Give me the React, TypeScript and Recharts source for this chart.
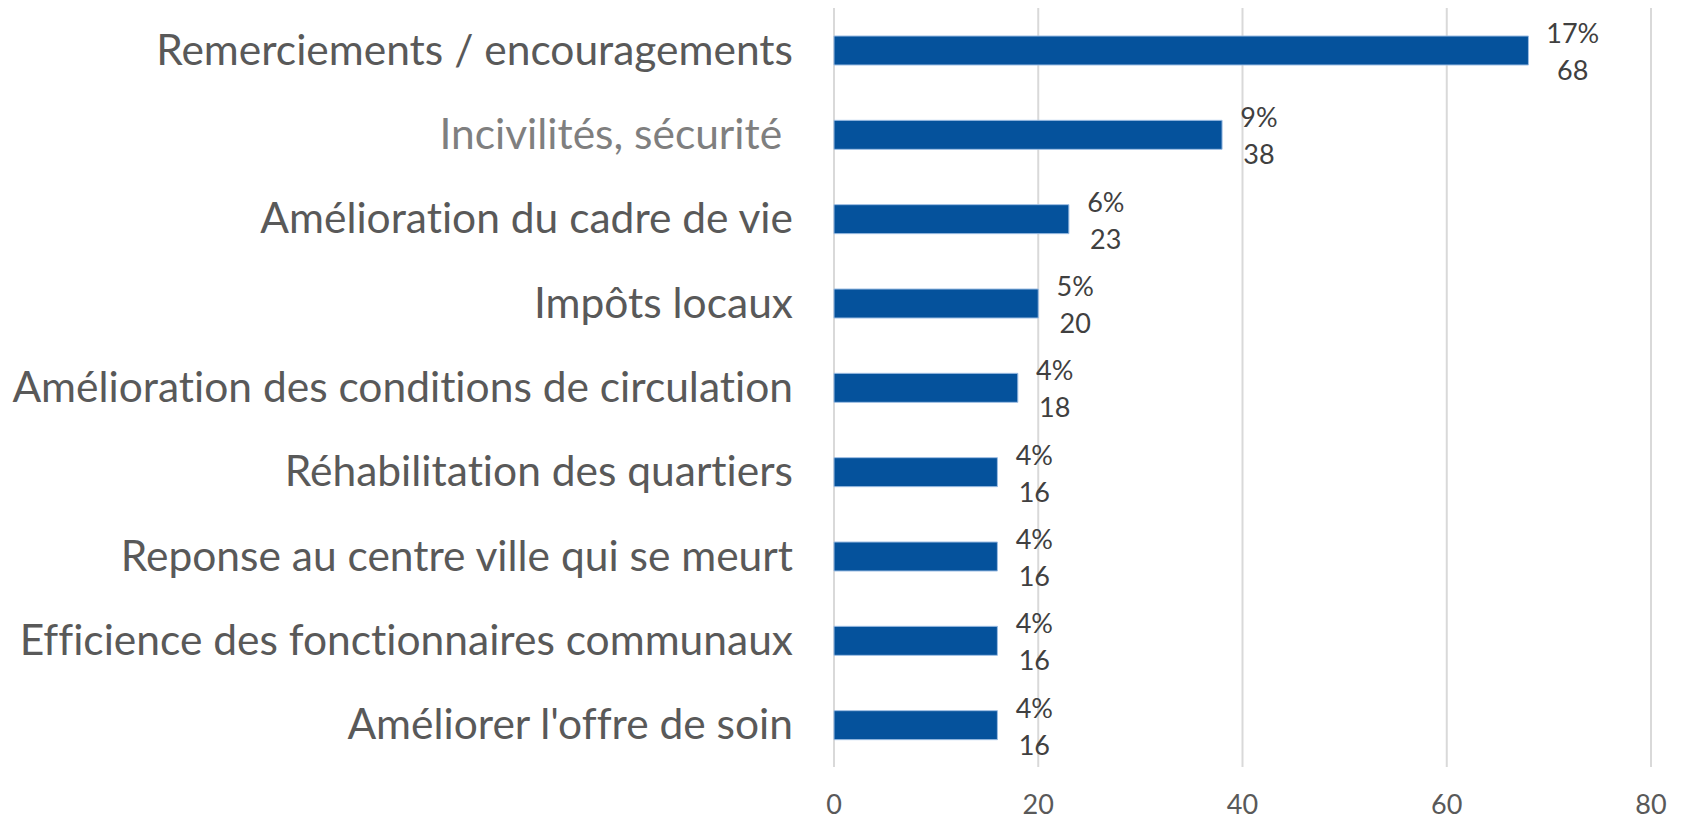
import React from "react";
import {
  BarChart,
  Bar,
  XAxis,
  YAxis,
  CartesianGrid,
  LabelList,
} from "recharts";

const categories = [
  "Remerciements / encouragements",
  "Incivilités, sécurité ",
  "Amélioration du cadre de vie",
  "Impôts locaux",
  "Amélioration des conditions de circulation",
  "Réhabilitation des quartiers",
  "Reponse au centre ville qui se meurt",
  "Efficience des fonctionnaires communaux",
  "Améliorer l'offre de soin",
];
const counts = [68, 38, 23, 20, 18, 16, 16, 16, 16];
const shares = ["17%", "9%", "6%", "5%", "4%", "4%", "4%", "4%", "4%"];
const xTicks = [0, 20, 40, 60, 80];

const data = categories.map((name, i) => ({
  name,
  value: counts[i],
  share: shares[i],
}));

const FONT = "Lato, 'Noto Sans', sans-serif";

function CategoryTick(props: any) {
  const { x, y, payload } = props;
  const grey = payload.value.startsWith("Incivilit");
  return (
    <text
      x={x}
      y={y - 2}
      textAnchor="end"
      dominantBaseline="central"
      fontSize={42.5}
      fontFamily={FONT}
      fill={grey ? "#7f7f7f" : "#595959"}
      style={{ whiteSpace: "pre", fontVariantLigatures: "none" }}>
      {payload.value}
    </text>
  );
}

function ValueLabel(props: any) {
  const { x, y, width, height, index } = props;
  const share = shares[index];
  const fs = 27;
  let w = 0;
  for (const ch of share) w += ch === "%" ? 0.85 : 0.55;
  const cx = x + width + 18 + (w * fs) / 2;
  const cy = y + height / 2;
  return (
    <g fontFamily={FONT} fontSize={fs} fill="#404040" textAnchor="middle">
      <text x={cx} y={cy - 18} dominantBaseline="central">
        {share}
      </text>
      <text x={cx} y={cy + 19} dominantBaseline="central">
        {counts[index]}
      </text>
    </g>
  );
}

export default function App() {
  return (
    <div style={{ position: "fixed", left: 0, top: 0, background: "#fff" }}>
      <BarChart
        width={1684}
        height={822}
        data={data}
        layout="vertical"
        margin={{ top: 8, right: 33, bottom: 0, left: 0 }}>
        <CartesianGrid
          horizontal={false}
          stroke="#d9d9d9"
          strokeWidth={2}
        />
        <XAxis
          type="number"
          domain={[0, 80]}
          ticks={xTicks}
          axisLine={false}
          tickLine={false}
          tickSize={0}
          tickMargin={28}
          height={55}
          tick={{ fontSize: 27, fontFamily: FONT, fill: "#595959" }}
        />
        <YAxis
          type="category"
          dataKey="name"
          width={834}
          axisLine={false}
          tickLine={false}
          tickSize={0}
          tickMargin={41}
          interval={0}
          tick={<CategoryTick />}
        />
        <Bar
          dataKey="value"
          fill="#05529c"
          stroke="#9dbde3"
          strokeWidth={1}
          barSize={29}
          isAnimationActive={false}>
          <LabelList dataKey="value" content={<ValueLabel />} />
        </Bar>
      </BarChart>
    </div>
  );
}
